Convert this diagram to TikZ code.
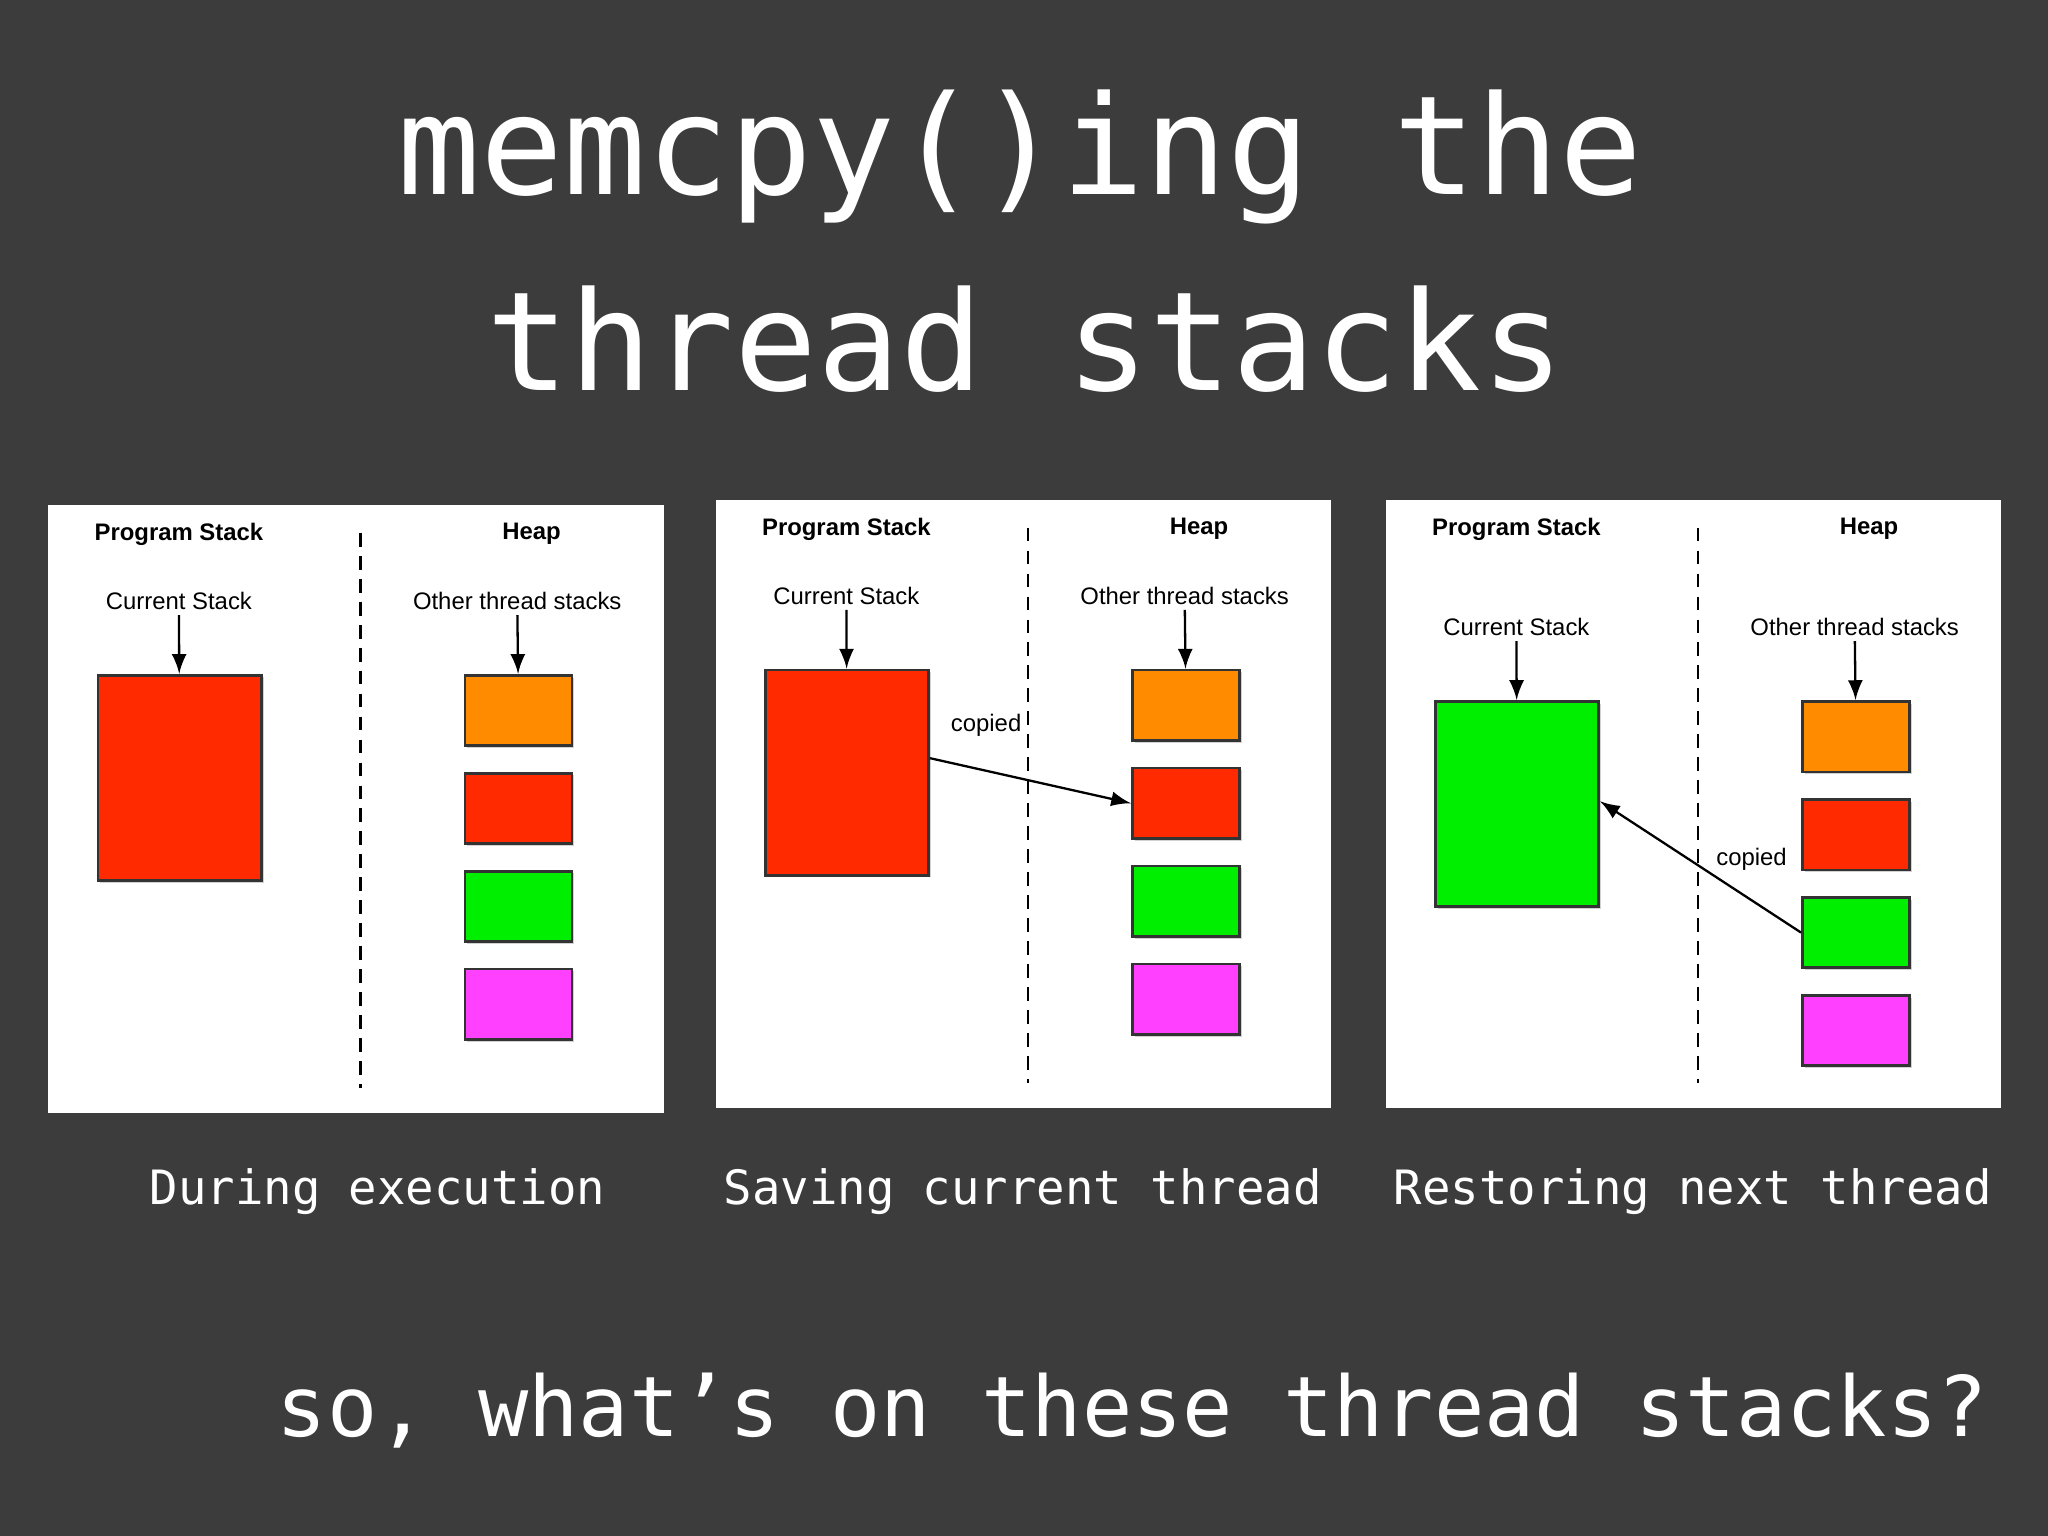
\documentclass[tikz,border=0pt]{standalone}
\usepackage{fontspec}
\setmainfont{Liberation Sans}
\newfontfamily\monof{DejaVu Sans Mono}
\usetikzlibrary{shadows}
\definecolor{bg}{HTML}{3C3C3C}
\definecolor{cred}{HTML}{FF2A00}
\definecolor{corange}{HTML}{FF8C00}
\definecolor{cgreen}{HTML}{00EE00}
\definecolor{cmag}{HTML}{FF40FF}
\tikzset{
  box/.style={draw=black!80,line width=0.6pt,inner sep=0pt,drop shadow={opacity=0.35,shadow xshift=0.5pt,shadow yshift=-0.5pt}},
  big/.style={box,minimum width=1.25cm,minimum height=1.57cm},
  small/.style={box,minimum width=0.82cm,minimum height=0.54cm},
  lbl/.style={font=\fontsize{5.2}{6}\selectfont,inner sep=1pt},
  hdr/.style={font=\bfseries\fontsize{5.2}{6}\selectfont,inner sep=1pt},
  ar/.style={-latex,line width=0.5pt},
  captext/.style={font=\monof\fontsize{10.3}{12}\selectfont,text=white},
}
\newcommand{\mypanel}[5]{% name, x, y, dy, big colour
  \begin{scope}[shift={(#2,#3)}]
    \fill[white] (0,0) rectangle (471,465);
    \node[hdr] (#1ps) at (100,22) {Program Stack};
    \node[hdr] (#1hp) at (370,22) {Heap};
    \coordinate (#1d1) at (239,21);
    \coordinate (#1d2) at (239,446);
    \draw[line width=0.5pt,dash pattern=on 3pt off 2pt] (#1d1) -- (#1d2);
    \node[lbl] (#1cs) at (100,{73+#4}) {Current Stack};
    \node[lbl] (#1ot) at (359,{73+#4}) {Other thread stacks};
    \node[big,fill=#5] (#1big) at (100.5,{208.5+#4}) {};
    \node[small,fill=corange] (#1s1) at (360,{157+#4}) {};
    \node[small,fill=cred] (#1s2) at (360,{232+#4}) {};
    \node[small,fill=cgreen] (#1s3) at (360,{307+#4}) {};
    \node[small,fill=cmag] (#1s4) at (360,{382+#4}) {};
    \draw[ar] (#1cs) -- (#1big);
    \draw[ar] (#1ot) -- (#1s1);
  \end{scope}}
\begin{document}
\begin{tikzpicture}[x=0.01cm,y=-0.01cm]
\fill[bg] (0,0) rectangle (1568,1176);
\node[font=\monof\fontsize{30}{36}\selectfont,text=white] (t1) at (781,120) {memcpy()ing the};
\node[font=\monof\fontsize{30}{36}\selectfont,text=white] (t2) at (785,260) {thread stacks};
\mypanel{a}{37}{387}{0}{cred}
\mypanel{b}{548}{383}{0}{cred}
\mypanel{c}{1061}{383}{24}{cgreen}
\draw[ar] ([yshift=0.11cm]bbig.east) -- (bs2.west);
\node[lbl] (bcp) at (755,555) {copied};
\draw[ar] (cs3.west) -- ([yshift=0.02cm]cbig.east);
\node[lbl] (ccp) at (1341,658) {copied};
\node[captext] (k1) at (289,912) {During execution};
\node[captext] (k2) at (783,912) {Saving current thread};
\node[captext] (k3) at (1296,912) {Restoring next thread};
\node[font=\monof\fontsize{18.2}{22}\selectfont,text=white] (q) at (867,1080) {so, what’s on these thread stacks?};
\end{tikzpicture}
\end{document}
